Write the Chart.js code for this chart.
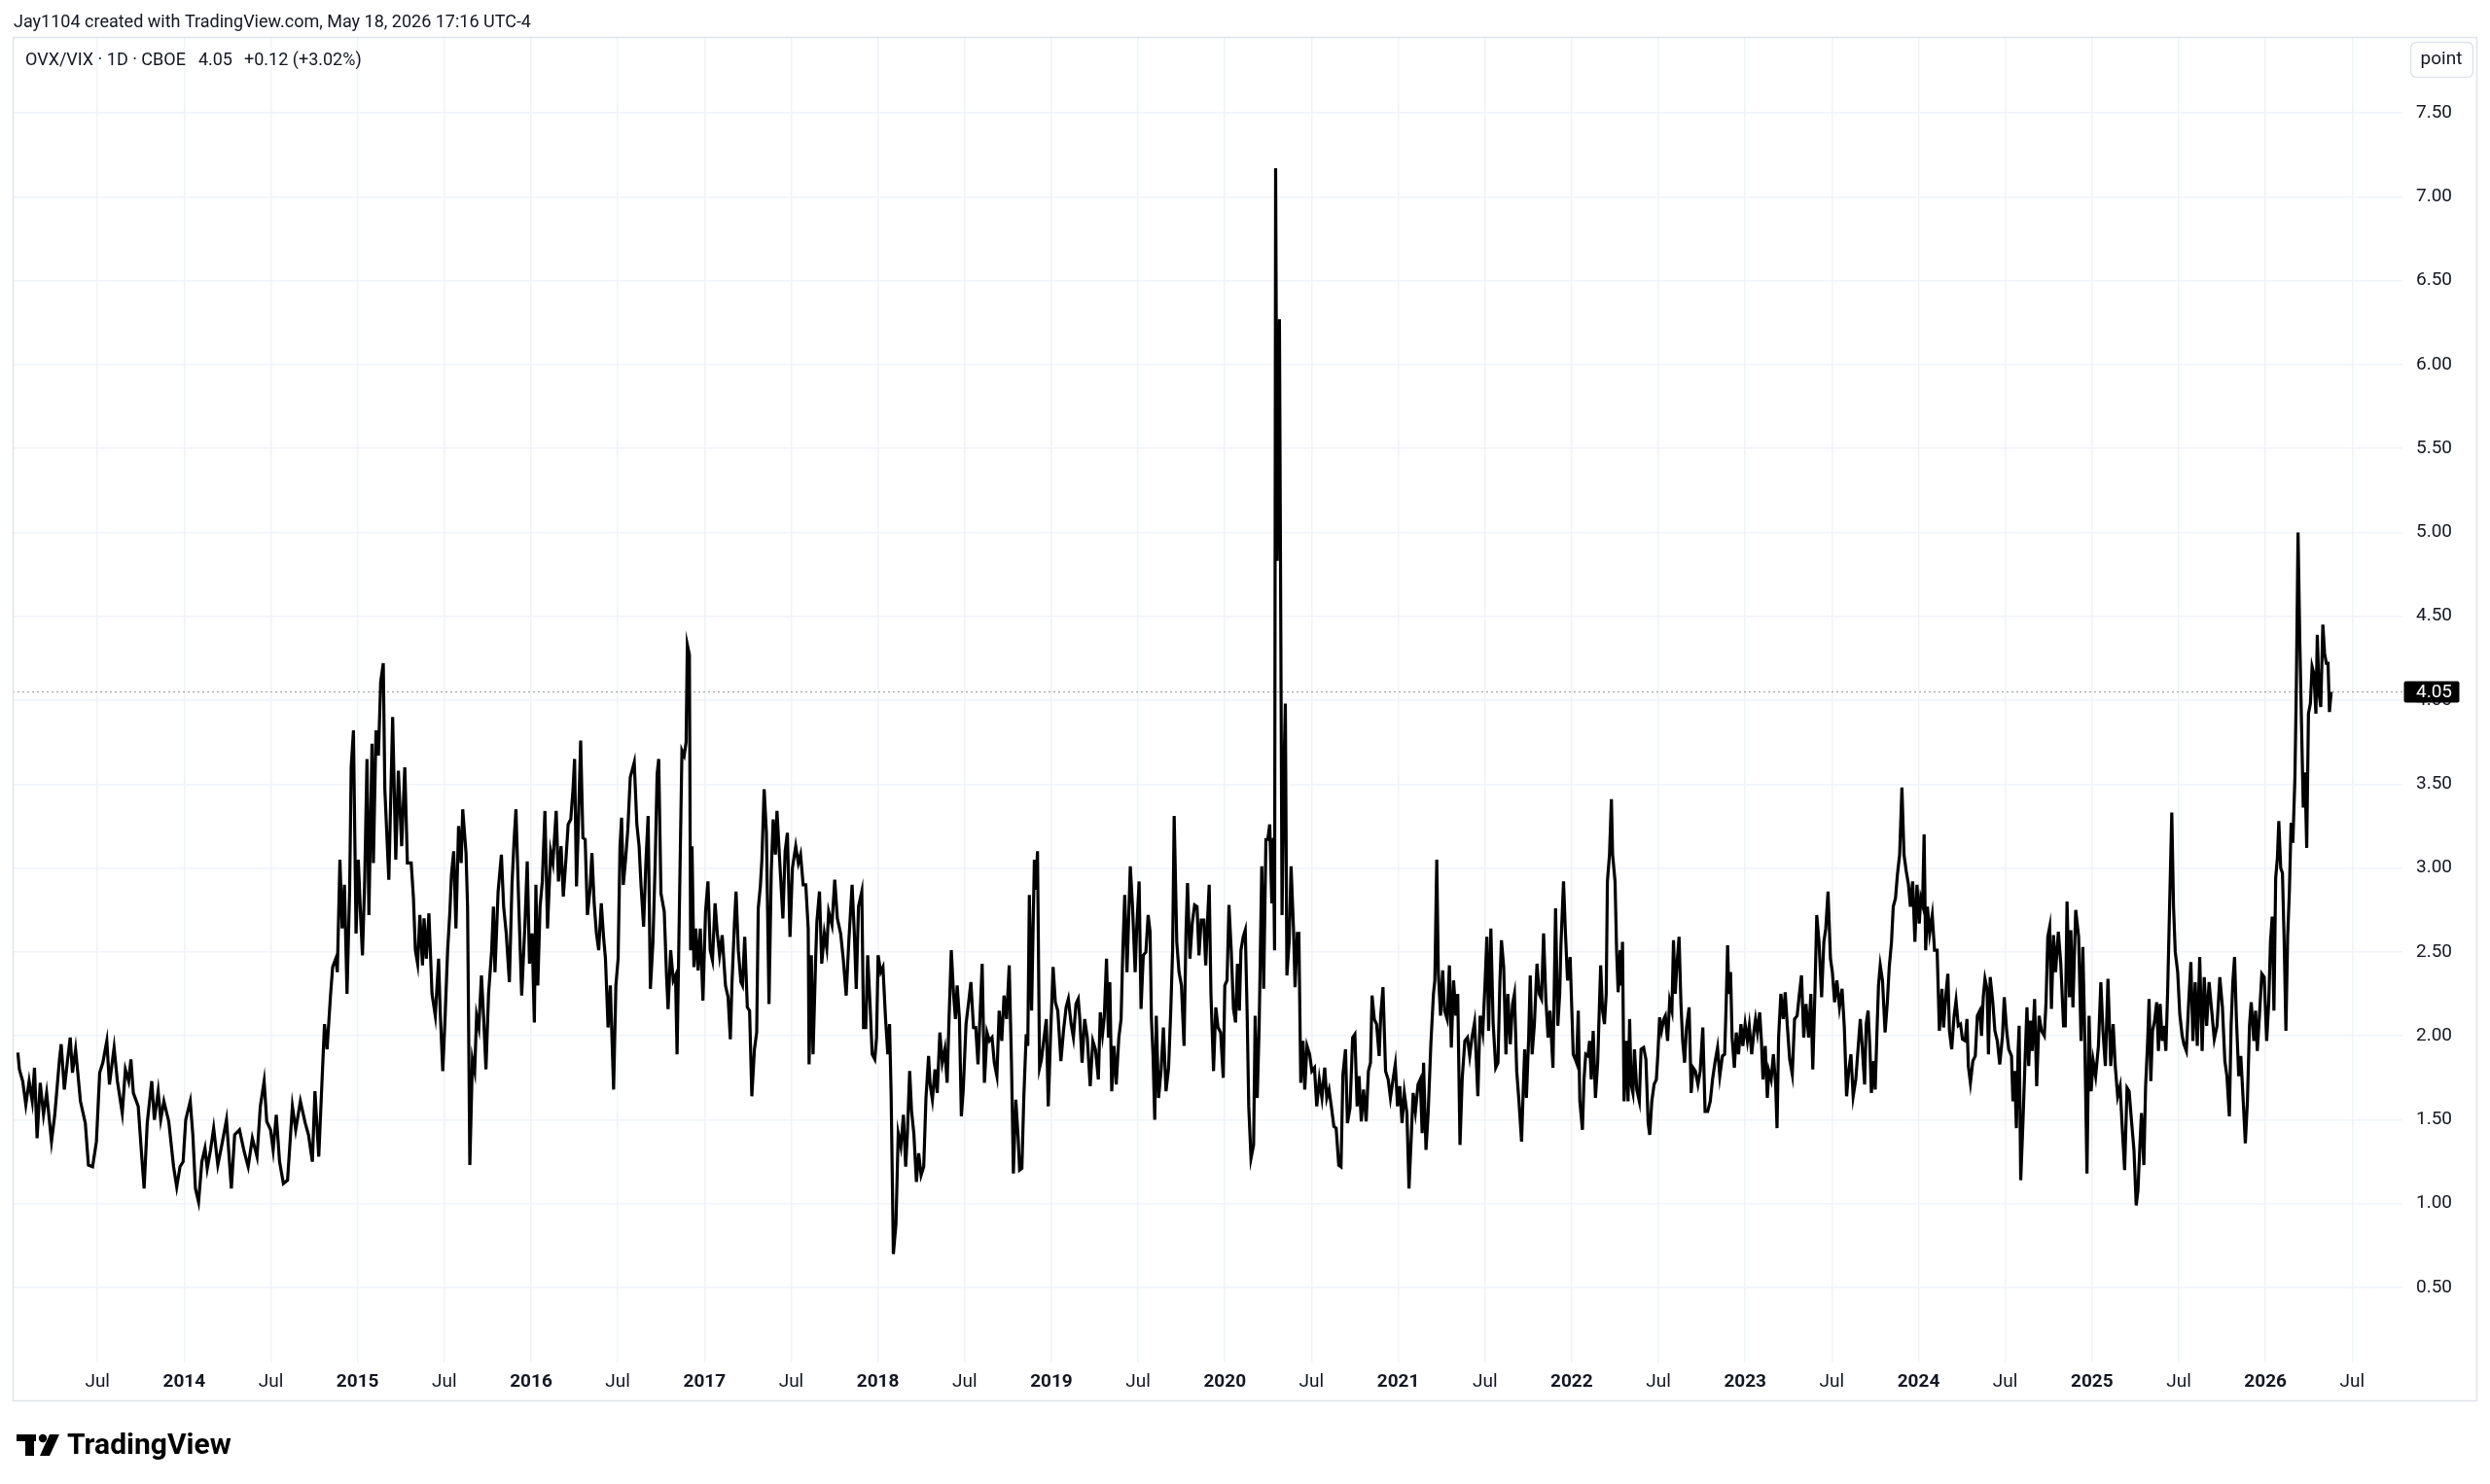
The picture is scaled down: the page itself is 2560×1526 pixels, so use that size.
<!DOCTYPE html>
<html>
<head>
<meta charset="utf-8">
<title>OVX/VIX · 1D · CBOE</title>
<script src="https://cdn.jsdelivr.net/npm/chart.js@4/dist/chart.umd.min.js"></script>
<style>
  html, body { margin: 0; padding: 0; background: #fff; }
  canvas { display: block; }
</style>
</head>
<body>
<canvas id="chart" width="2560" height="1526"></canvas>
<script>
// header texts
const authorLine = 'Jay1104 created with TradingView.com, May 18, 2026 17:16 UTC-4';
const symbolLine = 'OVX/VIX · 1D · CBOE';
const lastValue = 4.05;
const changeText = '+0.12 (+3.02%)';
const unitLabel = 'point';

// axis ticks (time in decimal years)
const timeTicks = [2013.5, 2014, 2014.5, 2015, 2015.5, 2016, 2016.5, 2017, 2017.5, 2018, 2018.5,
  2019, 2019.5, 2020, 2020.5, 2021, 2021.5, 2022, 2022.5, 2023, 2023.5, 2024, 2024.5, 2025, 2025.5, 2026, 2026.5];
const priceTicks = [0.5, 1, 1.5, 2, 2.5, 3, 3.5, 4, 4.5, 5, 5.5, 6, 6.5, 7, 7.5];

// OVX/VIX ratio (decimal years / ratio)
const years = [
  2013.041,2013.050,2013.069,2013.087,2013.106,2013.124,2013.137,2013.152,2013.170,2013.189,
  2013.207,2013.235,2013.254,2013.281,2013.291,2013.309,2013.328,2013.343,2013.356,2013.374,
  2013.402,2013.430,2013.448,2013.472,2013.494,2013.513,2013.531,2013.554,2013.569,2013.596,
  2013.615,2013.643,2013.661,2013.680,2013.693,2013.707,2013.735,2013.754,2013.769,2013.787,
  2013.813,2013.828,2013.850,2013.865,2013.883,2013.911,2013.939,2013.957,2013.976,2013.994,
  2014.009,2014.035,2014.050,2014.065,2014.083,2014.102,2014.120,2014.133,2014.152,2014.170,
  2014.194,2014.217,2014.244,2014.272,2014.291,2014.319,2014.346,2014.369,2014.393,2014.420,
  2014.439,2014.461,2014.476,2014.498,2014.513,2014.531,2014.550,2014.572,2014.596,2014.624,
  2014.643,2014.670,2014.698,2014.717,2014.739,2014.754,2014.776,2014.791,2014.809,2014.824,
  2014.843,2014.856,2014.874,2014.883,2014.898,2014.911,2014.924,2014.939,2014.954,2014.963,
  2014.976,2014.991,2015.004,2015.017,2015.028,2015.041,2015.054,2015.065,2015.083,2015.091,
  2015.106,2015.120,2015.133,2015.148,2015.157,2015.180,2015.202,2015.220,2015.235,2015.254,
  2015.272,2015.287,
  2015.309,2015.322,2015.333,2015.346,2015.359,2015.374,2015.383,2015.396,2015.411,2015.429,
  2015.448,2015.467,2015.476,2015.491,2015.504,2015.519,2015.532,2015.541,2015.554,2015.567,
  2015.582,2015.597,2015.606,2015.625,2015.634,2015.647,2015.662,2015.675,2015.686,2015.699,
  2015.714,2015.727,2015.740,2015.755,2015.773,2015.783,2015.792,2015.810,2015.829,2015.842,
  2015.857,2015.875,2015.890,2015.903,2015.913,2015.928,2015.946,2015.965,2015.978,2015.991,
  2016.006,2016.019,2016.028,2016.039,2016.052,2016.065,2016.080,2016.095,2016.113,2016.126,
  2016.145,2016.158,2016.173,2016.186,2016.201,2016.214,2016.229,2016.242,2016.251,2016.262,
  2016.275,2016.286,2016.299,2016.312,2016.325,2016.340,2016.351,2016.364,2016.377,2016.390,
  2016.405,2016.418,2016.429,2016.444,2016.457,2016.476,2016.489,2016.502,2016.513,2016.522,
  2016.532,2016.545,2016.558,2016.572,2016.595,2016.610,2016.623,2016.634,2016.649,2016.662,
  2016.675,2016.688,2016.703,2016.716,2016.727,2016.736,2016.749,2016.768,2016.781,2016.790,
  2016.805,2016.820,2016.833,2016.842,2016.857,2016.870,2016.883,2016.894,2016.901,2016.913,
  2016.920,2016.928,2016.939,2016.950,2016.963,2016.976,2016.991,2017.006,2017.020,2017.033,
  2017.046,2017.061,2017.074,2017.087,2017.102,2017.121,2017.136,2017.149,2017.158,2017.173,
  2017.182,2017.195,2017.210,2017.219,2017.232,2017.247,2017.260,2017.273,2017.288,2017.301,
  2017.310,2017.322,2017.331,2017.344,2017.357,2017.372,2017.385,2017.396,2017.409,2017.418,
  2017.437,2017.452,2017.465,2017.478,2017.493,2017.507,2017.526,
  2017.541,2017.554,2017.569,2017.584,2017.598,2017.603,2017.616,2017.626,2017.641,2017.648,
  2017.663,2017.676,2017.691,2017.705,2017.716,2017.735,2017.751,2017.766,2017.785,2017.800,
  2017.817,2017.832,2017.851,2017.864,2017.875,2017.888,2017.907,2017.917,2017.930,2017.941,
  2017.954,2017.967,2017.982,2017.992,2018.001,2018.016,2018.029,2018.044,2018.057,2018.067,
  2018.076,2018.089,2018.104,2018.117,2018.132,2018.147,2018.160,2018.170,2018.183,2018.194,
  2018.207,2018.222,2018.235,2018.249,2018.264,2018.277,2018.292,2018.301,2018.314,2018.329,
  2018.342,2018.357,2018.371,2018.386,2018.399,2018.410,2018.423,2018.436,2018.447,2018.457,
  2018.470,2018.481,2018.492,2018.508,2018.523,2018.536,2018.551,2018.564,2018.577,2018.592,
  2018.601,2018.614,2018.629,2018.643,2018.658,2018.671,2018.686,2018.699,2018.714,2018.727,
  2018.742,2018.757,2018.770,2018.781,2018.795,2018.808,2018.817,2018.830,2018.841,2018.855,
  2018.864,2018.873,2018.886,2018.902,2018.911,2018.920,2018.932,2018.943,2018.958,2018.971,
  2018.982,2018.995,2019.010,2019.023,2019.037,2019.055,2019.070,2019.085,2019.098,2019.114,
  2019.127,2019.142,2019.155,2019.164,2019.177,2019.192,2019.207,2019.224,2019.239,2019.254,
  2019.271,2019.282,2019.295,2019.305,2019.318,2019.329,2019.337,2019.348,2019.361,2019.374,
  2019.389,2019.402,2019.412,2019.423,2019.436,2019.455,2019.468,2019.483,2019.492,2019.506,
  2019.517,2019.530,2019.545,2019.558,2019.569,2019.577,2019.586,2019.596,2019.605,2019.618,
  2019.633,2019.646,2019.661,2019.676,2019.689,2019.699,2019.708,2019.723,2019.736,2019.750,
  2019.765,
  2019.776,2019.785,2019.799,2019.812,2019.826,2019.840,2019.851,2019.864,2019.879,2019.890,
  2019.901,2019.910,2019.920,2019.935,2019.948,2019.961,2019.976,2019.991,2020.000,2020.013,
  2020.024,2020.037,2020.050,2020.062,2020.073,2020.084,2020.093,2020.106,2020.118,2020.129,
  2020.138,2020.151,2020.166,2020.175,2020.187,2020.198,2020.213,2020.224,2020.237,2020.248,
  2020.259,2020.271,2020.280,2020.287,2020.293,2020.302,2020.315,2020.330,2020.340,2020.349,
  2020.358,2020.371,2020.382,2020.396,2020.405,2020.418,2020.427,2020.438,2020.451,2020.461,
  2020.474,2020.489,2020.502,2020.517,2020.530,2020.545,2020.560,2020.576,2020.588,2020.601,
  2020.614,2020.629,2020.642,2020.657,2020.670,2020.681,2020.696,2020.707,2020.722,2020.737,
  2020.750,2020.763,2020.774,2020.787,2020.800,2020.815,2020.828,2020.840,2020.849,2020.862,
  2020.875,2020.890,2020.899,2020.912,2020.927,2020.942,2020.955,2020.970,2020.983,2020.996,
  2021.009,2021.022,2021.035,2021.050,2021.062,2021.073,2021.086,2021.099,2021.114,2021.127,
  2021.138,2021.146,2021.160,2021.173,2021.188,2021.203,2021.211,2021.222,2021.231,2021.244,
  2021.256,2021.267,2021.282,2021.295,2021.306,2021.319,2021.332,2021.343,2021.356,2021.369,
  2021.384,2021.399,2021.412,2021.425,2021.440,2021.450,2021.459,2021.472,2021.487,2021.500,
  2021.511,2021.521,2021.534,2021.547,2021.562,2021.575,2021.586,2021.595,2021.608,2021.621,
  2021.632,2021.646,2021.659,2021.670,2021.683,2021.696,2021.711,2021.720,2021.729,2021.739,
  2021.752,2021.761,2021.772,2021.785,2021.800,2021.813,2021.826,2021.838,2021.851,2021.864,
  2021.875,2021.892,2021.907,2021.920,2021.931,2021.938,2021.953,2021.963,2021.976,2021.991,
  2022.009,2022.021,2022.028,2022.038,2022.047,2022.062,2022.071,2022.081,2022.094,2022.103,
  2022.113,2022.124,2022.137,2022.150,2022.159,2022.167,2022.178,2022.189,2022.199,2022.206,
  2022.218,2022.229,2022.236,2022.250,2022.259,2022.268,2022.280,2022.287,2022.293,2022.302,
  2022.315,2022.325,2022.334,2022.343,2022.353,2022.362,2022.375,2022.390,2022.400,2022.415,
  2022.428,2022.441,2022.450,2022.462,2022.475,2022.488,2022.497,2022.507,2022.518,2022.531,
  2022.540,2022.553,2022.565,2022.578,2022.587,2022.597,2022.606,2022.619,2022.630,2022.640,
  2022.651,2022.662,2022.677,2022.689,2022.700,2022.713,2022.728,2022.741,2022.756,2022.769,
  2022.784,2022.799,2022.812,2022.826,2022.841,2022.854,2022.869,2022.882,2022.891,2022.899,
  2022.906,2022.916,2022.925,2022.938,2022.949,2022.962,2022.976,2022.987,2023.000,2023.013,
  2023.024,2023.038,2023.051,2023.060,2023.071,2023.084,2023.094,2023.103,2023.116,2023.128,
  2023.137,2023.150,2023.163,2023.176,2023.184,2023.193,2023.206,2023.220,2023.231,2023.244,
  2023.257,2023.272,2023.285,2023.300,2023.313,2023.325,2023.338,2023.351,2023.366,2023.379,
  2023.390,2023.403,2023.413,2023.426,2023.441,2023.454,2023.465,2023.478,2023.492,2023.503,
  2023.516,2023.529,2023.544,2023.559,2023.572,2023.585,2023.597,2023.610,2023.623,2023.638,
  2023.651,2023.664,2023.675,2023.689,2023.698,2023.709,2023.719,2023.728,2023.741,2023.750,
  2023.760,2023.769,2023.779,2023.792,2023.807,2023.820,2023.831,2023.844,2023.854,2023.867,
  2023.878,2023.891,2023.904,2023.916,2023.929,2023.942,2023.953,2023.966,2023.979,2023.991,
  2024.004,2024.013,2024.023,2024.032,2024.041,2024.051,2024.064,2024.079,2024.092,2024.107,
  2024.120,2024.135,2024.144,2024.158,2024.169,2024.178,2024.191,2024.205,2024.216,2024.229,
  2024.242,2024.253,
  2024.269,2024.279,2024.287,2024.299,2024.313,2024.327,2024.339,2024.353,2024.363,2024.373,
  2024.383,2024.395,2024.403,2024.413,2024.428,2024.440,2024.454,2024.468,2024.484,2024.494,
  2024.508,2024.520,2024.536,2024.544,2024.554,2024.564,2024.574,2024.580,2024.589,2024.601,
  2024.615,2024.625,2024.635,2024.645,2024.655,2024.669,2024.681,2024.695,2024.709,2024.725,
  2024.735,2024.745,2024.756,2024.766,2024.778,2024.790,2024.806,2024.820,2024.836,2024.846,
  2024.856,2024.870,2024.878,2024.890,2024.906,2024.923,2024.937,2024.947,2024.957,2024.971,
  2024.983,2024.995,2025.007,2025.021,2025.037,2025.051,2025.063,2025.077,2025.092,2025.108,
  2025.122,2025.134,2025.148,2025.162,2025.174,2025.188,2025.202,2025.214,2025.228,2025.242,
  2025.255,2025.265,2025.275,2025.285,2025.299,2025.309,2025.321,2025.329,2025.339,2025.349,
  2025.361,2025.373,2025.383,2025.393,2025.405,2025.415,2025.426,2025.436,2025.446,2025.460,
  2025.470,2025.480,2025.494,2025.506,2025.520,2025.530,2025.544,2025.556,2025.570,2025.582,
  2025.595,2025.607,2025.621,2025.635,2025.647,2025.661,2025.675,2025.691,2025.705,2025.721,
  2025.737,2025.752,2025.766,2025.778,2025.792,2025.802,2025.812,2025.822,2025.832,2025.846,
  2025.858,2025.872,2025.884,2025.896,2025.908,2025.918,2025.933,2025.943,2025.953,2025.967,
  2025.979,2025.993,2026.007,2026.019,2026.029,2026.039,2026.049,2026.059,2026.069,2026.077,
  2026.088,2026.098,2026.108,2026.118,2026.128,2026.138,2026.148,2026.158,2026.170,2026.178,
  2026.188,2026.198,2026.208,2026.218,2026.228,2026.238,2026.248,2026.259,2026.269,2026.279,
  2026.291,2026.299,2026.309,2026.319,2026.331,2026.341,2026.351,2026.361,2026.369,2026.379
];

const ratios = [
  1.90,1.80,1.73,1.59,1.73,1.61,1.81,1.39,1.72,1.53,
  1.66,1.37,1.53,1.86,1.95,1.68,1.86,1.99,1.78,1.92,
  1.61,1.48,1.23,1.22,1.37,1.78,1.84,1.97,1.71,1.93,
  1.73,1.54,1.80,1.73,1.86,1.66,1.58,1.30,1.09,1.48,
  1.73,1.50,1.67,1.50,1.61,1.49,1.22,1.10,1.22,1.25,
  1.50,1.61,1.41,1.09,1.01,1.25,1.33,1.21,1.32,1.45,
  1.23,1.35,1.50,1.09,1.41,1.44,1.31,1.22,1.39,1.28,
  1.58,1.73,1.49,1.44,1.32,1.53,1.25,1.12,1.14,1.58,
  1.44,1.61,1.48,1.41,1.25,1.67,1.28,1.64,2.07,1.92,
  2.23,2.41,2.46,2.38,3.05,2.64,2.90,2.25,2.87,3.60,
  3.82,2.61,3.05,2.72,2.48,2.93,3.65,2.72,3.74,3.03,
  3.82,3.67,4.11,4.22,3.47,2.93,3.90,3.05,3.58,3.13,
  3.60,3.03,
  3.03,2.82,2.51,2.43,2.72,2.42,2.70,2.46,2.73,2.25,
  2.12,2.46,2.15,1.79,2.10,2.51,2.74,2.96,3.10,2.64,
  3.25,3.03,3.35,3.09,2.77,1.23,1.86,1.79,2.12,2.05,
  2.36,2.10,1.80,2.25,2.51,2.77,2.38,2.86,3.08,2.77,
  2.61,2.32,2.90,3.18,3.35,2.82,2.24,2.67,3.04,2.43,
  2.61,2.08,2.90,2.30,2.77,2.92,3.34,2.64,3.10,3.03,
  3.34,2.92,3.13,2.83,3.05,3.26,3.29,3.47,3.65,2.89,
  3.34,3.76,3.18,3.17,2.72,2.87,3.09,2.79,2.61,2.51,
  2.79,2.59,2.46,2.05,2.30,1.68,2.30,2.46,3.13,3.30,
  2.90,3.05,3.23,3.54,3.63,3.26,3.13,2.90,2.65,3.03,
  3.31,2.28,2.56,3.05,3.56,3.65,2.85,2.74,2.36,2.16,
  2.51,2.33,2.36,1.89,2.87,3.70,3.67,3.75,4.33,4.27,
  2.51,3.13,2.41,2.64,2.39,2.64,2.21,2.74,2.92,2.51,
  2.45,2.79,2.61,2.48,2.60,2.30,2.23,1.98,2.30,2.68,
  2.86,2.51,2.32,2.30,2.59,2.17,2.15,1.64,1.92,2.02,
  2.76,2.89,3.05,3.47,3.21,2.19,2.98,3.29,3.08,3.34,
  2.98,2.70,3.10,3.21,2.59,3.00,3.13,
  3.03,3.08,2.90,2.90,2.64,1.83,2.48,1.89,2.46,2.68,
  2.86,2.43,2.61,2.52,2.74,2.66,2.93,2.70,2.61,2.46,
  2.24,2.56,2.90,2.61,2.28,2.77,2.86,2.05,2.05,2.48,
  2.20,1.89,1.86,1.99,2.48,2.38,2.41,2.10,1.89,2.07,
  1.66,0.70,0.88,1.42,1.34,1.53,1.22,1.42,1.79,1.55,
  1.42,1.13,1.30,1.17,1.22,1.63,1.88,1.71,1.62,1.80,
  1.66,2.02,1.84,1.92,1.72,2.10,2.51,2.25,2.10,2.30,
  2.10,1.52,1.68,2.07,2.20,2.32,2.05,2.05,1.83,2.20,
  2.43,1.72,2.02,1.97,1.99,1.84,1.76,2.15,1.97,2.24,
  2.10,2.42,1.84,1.18,1.62,1.40,1.20,1.21,1.63,2.01,
  1.94,2.84,2.15,3.05,2.87,3.10,1.81,1.86,1.99,2.10,
  1.58,1.99,2.41,2.20,2.15,1.85,2.03,2.17,2.22,2.07,
  1.99,2.19,2.22,2.10,1.84,2.10,1.99,1.70,1.97,1.92,
  1.74,2.14,2.01,2.11,2.46,1.99,2.32,1.67,1.94,1.71,
  1.99,2.10,2.51,2.84,2.38,3.01,2.77,2.38,2.64,2.92,
  2.16,2.48,2.50,2.72,2.62,2.10,1.89,1.50,2.12,1.63,
  1.80,2.05,1.67,1.81,2.17,2.51,3.31,2.56,2.38,2.30,
  1.94,
  2.61,2.91,2.46,2.67,2.78,2.77,2.48,2.69,2.69,2.42,
  2.70,2.90,2.25,1.79,2.17,2.05,2.02,1.75,2.30,2.33,
  2.78,2.51,2.16,2.08,2.43,2.15,2.51,2.59,2.63,2.12,
  1.58,1.27,1.35,2.12,1.63,2.05,3.01,2.28,3.17,3.17,
  3.26,2.79,3.18,2.51,7.17,4.83,6.27,2.72,3.54,3.98,
  2.36,2.56,3.01,2.64,2.29,2.61,2.61,1.72,1.97,1.68,
  1.94,1.89,1.79,1.81,1.58,1.74,1.63,1.81,1.63,1.68,
  1.58,1.46,1.45,1.23,1.22,1.77,1.92,1.48,1.57,1.99,
  2.01,1.58,1.76,1.49,1.68,1.49,1.79,1.84,2.24,2.10,
  2.07,1.88,2.12,2.29,1.79,1.74,1.63,1.74,1.83,1.58,
  1.70,1.48,1.66,1.54,1.09,1.35,1.66,1.55,1.71,1.74,
  1.42,1.84,1.32,1.55,1.95,2.25,2.33,3.05,2.38,2.12,
  2.39,2.15,2.10,2.42,1.93,2.33,2.12,2.25,1.35,1.75,
  1.97,1.99,1.88,1.99,2.08,1.86,1.64,2.12,2.02,2.30,
  2.59,2.03,2.64,2.08,1.81,1.84,2.32,2.57,2.41,1.89,
  2.25,1.95,2.19,2.25,1.79,1.61,1.37,1.66,1.92,1.63,
  1.99,2.36,1.89,2.07,2.43,2.25,2.22,2.61,2.22,1.99,
  2.15,1.81,2.76,2.06,2.25,2.54,2.92,2.64,2.33,2.47,
  1.89,1.86,1.84,2.15,1.61,1.44,1.74,1.89,1.88,1.97,
  1.74,2.03,1.63,1.84,2.15,2.42,2.15,2.07,2.25,2.92,
  3.08,3.41,3.08,2.92,2.51,2.26,2.51,2.30,2.56,1.61,
  1.97,1.61,2.10,1.71,1.66,1.92,1.68,1.61,1.92,1.93,
  1.86,1.48,1.41,1.61,1.71,1.74,1.89,2.11,2.03,2.10,
  2.12,1.97,2.21,2.15,2.57,2.25,2.41,2.59,2.19,1.97,
  1.84,2.05,2.17,1.66,1.81,1.79,1.71,1.79,2.05,1.55,
  1.55,1.61,1.74,1.84,1.93,1.76,1.88,1.89,2.20,2.54,
  2.25,2.38,1.99,1.81,2.02,1.89,2.07,1.94,2.07,1.97,
  2.06,1.89,2.03,2.10,2.02,2.14,1.97,1.74,1.94,1.63,
  1.79,1.74,1.89,1.71,1.45,1.99,2.25,2.10,2.26,2.05,
  1.86,1.77,2.10,2.12,2.25,2.36,1.99,2.19,1.99,2.25,
  1.80,2.28,2.72,2.56,2.23,2.56,2.64,2.86,2.46,2.38,
  2.20,2.33,2.17,2.28,2.05,1.64,1.79,1.89,1.64,1.74,
  1.92,2.10,1.94,1.71,2.07,2.15,1.94,1.66,1.85,1.68,
  2.02,2.30,2.42,2.33,2.02,2.20,2.41,2.56,2.77,2.82,
  2.96,3.08,3.48,3.08,2.98,2.90,2.77,2.92,2.56,2.90,
  2.67,2.82,2.78,3.20,2.51,2.77,2.61,2.72,2.51,2.51,
  2.03,2.28,2.05,2.25,2.37,2.03,1.92,2.12,2.21,2.06,
  2.07,1.98,
  1.97,2.10,1.82,1.72,1.85,1.88,2.12,2.15,2.00,2.23,
  2.34,2.28,1.89,2.35,2.20,2.03,1.97,1.83,2.00,2.23,
  2.03,1.92,1.88,1.61,1.79,1.45,1.91,2.06,1.14,1.46,
  1.88,2.17,1.82,2.09,1.91,2.22,1.70,2.12,2.03,2.00,
  2.20,2.59,2.65,2.16,2.60,2.38,2.62,2.43,2.06,2.06,
  2.80,2.23,2.63,2.17,2.75,2.59,1.97,2.53,2.06,1.18,
  2.12,1.67,1.85,1.76,1.94,2.32,2.03,1.82,2.34,1.82,
  2.07,1.82,1.64,1.70,1.46,1.20,1.69,1.67,1.49,1.32,
  0.99,1.08,1.32,1.54,1.23,1.70,1.97,2.22,1.73,2.03,
  2.09,2.20,1.91,2.19,1.97,2.06,1.91,2.26,2.71,3.33,
  2.77,2.50,2.38,2.13,2.00,1.95,1.91,2.17,2.44,1.97,
  2.32,1.94,2.47,1.91,2.35,2.06,2.32,2.14,1.98,2.06,
  2.35,2.17,1.85,1.76,1.52,2.06,2.32,2.47,2.12,1.76,
  1.88,1.61,1.36,1.61,2.06,2.20,1.97,2.15,1.91,2.15,
  2.37,2.35,1.97,2.20,2.56,2.71,2.15,2.94,3.06,3.28,
  3.00,2.97,2.56,2.03,2.59,2.86,3.27,3.15,3.54,4.07,
  5.00,4.36,3.86,3.36,3.57,3.12,3.92,3.98,4.20,4.16,
  3.92,4.39,4.04,3.96,4.45,4.28,4.22,4.22,3.93,4.05
];

const FONT = '-apple-system, BlinkMacSystemFont, "Trebuchet MS", Roboto, Ubuntu, sans-serif';
const INK = '#131722';
const GRID = '#f0f3fa';
const FRAME = '#e0e3eb';

// header, frame, legend, last price and logo
const tvDecor = {
  id: 'tvDecor',
  beforeDraw(chart) {
    const c = chart.ctx;
    c.save();
    c.fillStyle = '#fff';
    c.fillRect(0, 0, chart.width, chart.height);
    c.restore();
  },
  beforeDatasetsDraw(chart) {
    const { ctx: c, chartArea: a, scales: { y } } = chart;
    const py = Math.round(y.getPixelForValue(lastValue)) + 0.5;
    c.save();
    c.strokeStyle = '#9598a1';
    c.lineWidth = 1.2;
    c.setLineDash([2, 3]);
    c.beginPath();
    c.moveTo(a.left, py);
    c.lineTo(a.right, py);
    c.stroke();
    c.restore();
  },
  afterDraw(chart) {
    const { ctx: c, chartArea: a, scales: { y } } = chart;
    c.save();

    // outer frame
    c.strokeStyle = FRAME;
    c.lineWidth = 1.5;
    c.strokeRect(13.5, 38.5, 2533, 1402);

    // top line
    c.fillStyle = INK;
    c.textBaseline = 'middle';
    c.textAlign = 'left';
    c.font = '18px ' + FONT;
    c.fillText(authorLine, 14, 23);

    // legend
    c.font = '18px ' + FONT;
    let x = 26;
    c.fillText(symbolLine, x, 62);
    x += c.measureText(symbolLine).width + 13;
    c.fillText(lastValue.toFixed(2), x, 62);
    x += c.measureText(lastValue.toFixed(2)).width + 12;
    c.fillText(changeText, x, 62);

    // unit box
    c.strokeStyle = FRAME;
    c.lineWidth = 1.5;
    c.beginPath();
    c.roundRect(2478.5, 43.5, 64, 36, 6);
    c.stroke();
    c.textAlign = 'center';
    c.font = '19px ' + FONT;
    c.fillText(unitLabel, 2510, 61);

    // last value label
    const py = y.getPixelForValue(lastValue);
    c.fillStyle = '#000';
    c.beginPath();
    c.roundRect(a.right + 1.5, py - 11, 57, 22, 2);
    c.fill();
    c.fillStyle = '#fff';
    c.textAlign = 'left';
    c.fillText(lastValue.toFixed(2), a.right + 14, py + 1);

    // logo
    c.fillStyle = '#000';
    c.fillRect(17, 1475, 20, 7);
    c.fillRect(26, 1475, 9, 22);
    c.beginPath();
    c.arc(44, 1479, 4.2, 0, Math.PI * 2);
    c.fill();
    c.beginPath();
    c.moveTo(51, 1475);
    c.lineTo(61, 1475);
    c.lineTo(51, 1497);
    c.lineTo(41, 1497);
    c.closePath();
    c.fill();
    c.font = 'bold 30px ' + FONT;
    c.textBaseline = 'middle';
    c.fillText('TradingView', 69, 1487);

    c.restore();
  }
};

function buildChart() {
  const ctx = document.getElementById('chart').getContext('2d');
  const points = years.map((t, i) => ({ x: t, y: ratios[i] }));

  new Chart(ctx, {
    type: 'line',
    data: {
      datasets: [{
        data: points,
        borderColor: '#000',
        borderWidth: 3.2,
        pointRadius: 0,
        tension: 0,
        fill: false
      }]
    },
    options: {
      responsive: false,
      animation: false,
      devicePixelRatio: 1,
      layout: { padding: { left: 13, top: 38, right: 14, bottom: 86 } },
      plugins: { legend: { display: false }, tooltip: { enabled: false } },
      scales: {
        x: {
          type: 'linear',
          min: 2013.011,
          max: 2026.79,
          afterBuildTicks: s => { s.ticks = timeTicks.map(v => ({ value: v })); },
          afterFit: s => { s.height = 39; },
          border: { display: false },
          grid: { color: GRID, lineWidth: 1.5, drawTicks: false },
          ticks: {
            autoSkip: false,
            maxRotation: 0,
            padding: 9,
            color: INK,
            font: c => ({
              family: FONT,
              size: 19,
              weight: c.tick && c.tick.value % 1 === 0 ? 'bold' : 'normal'
            }),
            callback: v => (v % 1 === 0 ? String(v) : 'Jul')
          }
        },
        y: {
          position: 'right',
          min: 0.054,
          max: 7.952,
          afterBuildTicks: s => { s.ticks = priceTicks.map(v => ({ value: v })); },
          afterFit: s => { s.width = 76; },
          border: { display: false },
          grid: { color: GRID, lineWidth: 1.5, drawTicks: false },
          ticks: {
            padding: 14,
            crossAlign: 'near',
            color: INK,
            font: { family: FONT, size: 19 },
            callback: v => v.toFixed(2)
          }
        }
      }
    },
    plugins: [tvDecor]
  });
}

document.addEventListener('DOMContentLoaded', buildChart);
</script>
</body>
</html>
